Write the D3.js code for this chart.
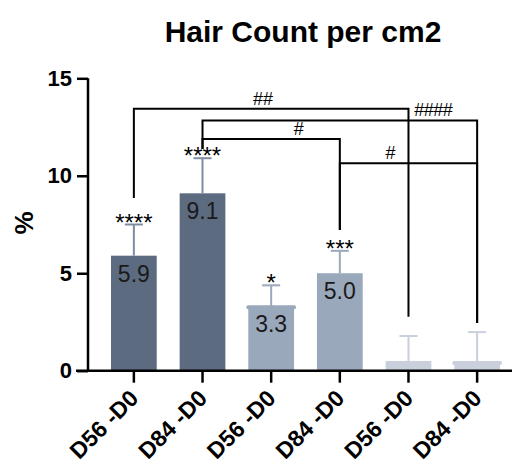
<!DOCTYPE html>
<html>
<head>
<meta charset="utf-8">
<script src="https://cdn.jsdelivr.net/npm/d3@7"></script>
<style>
  html, body { margin: 0; padding: 0; background: #fff; }
  svg { display: block; font-family: "Liberation Sans", Arial, Helvetica, sans-serif; }
</style>
</head>
<body>
<svg id="chart" width="515" height="466"></svg>
<script>
// ---- data ----
const categories = ["D56 -D0", "D84 -D0", "D56 -D0", "D84 -D0", "D56 -D0", "D84 -D0"];
const means      = [5.9, 9.1, 3.3, 5.0, 0.5, 0.45];
const errUpper   = [7.5, 10.9, 4.38, 6.15, 1.78, 1.98];
const valueLabels = ["5.9", "9.1", "3.3", "5.0", "", ""];
const stars      = ["****", "****", "*", "***", "", ""];
const yTicks     = [0, 5, 10, 15];
// brackets: from index, to index, height, left-leg end, right-leg end, label, label position fraction
const bracketFrom  = [0, 1, 1, 3];
const bracketTo    = [4, 5, 3, 5];
const bracketY     = [13.44, 12.84, 11.88, 10.64];
const bracketLeftEnd  = [8.86, 11.37, 11.37, 7.22];
const bracketRightEnd = [2.77, 2.45, 7.22, 2.45];
const bracketLabels   = ["##", "####", "#", "#"];
const bracketLabelFrac = [0.47, 0.84, 0.70, 0.37];

// ---- styles ----
const barColors = ["#5d6b80", "#5d6b80", "#9aa8bb", "#9aa8bb", "#c9d0dc", "#c9d0dc"];
const errColors = ["#7e8ca2", "#7e8ca2", "#9aa8bb", "#9aa8bb", "#c9d0dc", "#c9d0dc"];
const lipped    = [false, false, true, false, false, true];

const svg = d3.select("#chart");

const y = d3.scaleLinear().domain([0, 15]).range([370.7, 78.3]);
const x = d3.scaleBand().domain(d3.range(categories.length)).range([111, 500]).paddingInner(0.334).paddingOuter(0);
const cx = i => x(i) + x.bandwidth() / 2;

// title
svg.append("text").attr("x", 303).attr("y", 42).attr("text-anchor", "middle")
  .attr("font-size", 30).attr("font-weight", "bold").attr("fill", "#000")
  .text("Hair Count per cm2");

// y label
svg.append("text").attr("transform", "translate(33,223) rotate(-90)")
  .attr("text-anchor", "middle").attr("font-size", 26).attr("font-weight", "bold")
  .text("%");

// bars
const g = svg.append("g");
g.selectAll("rect.bar").data(means).join("rect")
  .attr("class", "bar")
  .attr("x", (d, i) => x(i)).attr("width", x.bandwidth())
  .attr("y", d => y(d)).attr("height", d => y(0) - y(d))
  .attr("fill", (d, i) => barColors[i]);

// lips on some bars
g.selectAll("rect.lip").data(means.map((d, i) => i).filter(i => lipped[i])).join("rect")
  .attr("class", "lip")
  .attr("x", i => x(i) - 2).attr("width", x.bandwidth() + 4)
  .attr("y", i => y(means[i]) - 1).attr("height", 4).attr("rx", 2)
  .attr("fill", i => barColors[i]);

// error bars
errUpper.forEach((e, i) => {
  g.append("line").attr("x1", cx(i)).attr("x2", cx(i))
    .attr("y1", y(means[i])).attr("y2", y(e))
    .attr("stroke", errColors[i]).attr("stroke-width", 2);
  g.append("line").attr("x1", cx(i) - 9).attr("x2", cx(i) + 9)
    .attr("y1", y(e)).attr("y2", y(e))
    .attr("stroke", errColors[i]).attr("stroke-width", 2);
});

// value labels
g.selectAll("text.val").data(valueLabels).join("text")
  .attr("class", "val")
  .attr("x", (d, i) => cx(i)).attr("y", (d, i) => y(means[i]) + 26)
  .attr("text-anchor", "middle").attr("font-size", 23).attr("fill", "#1a1a1a")
  .text(d => d);

// stars
g.selectAll("text.star").data(stars).join("text")
  .attr("class", "star")
  .attr("x", (d, i) => cx(i)).attr("y", (d, i) => y(errUpper[i]) + 6)
  .attr("text-anchor", "middle").attr("font-size", 24).attr("fill", "#000")
  .text(d => d);

// brackets
const bg = svg.append("g").attr("fill", "none").attr("stroke", "#000").attr("stroke-width", 2);
bracketFrom.forEach((f, k) => {
  const t = bracketTo[k];
  const path = d3.path();
  path.moveTo(cx(f), y(bracketLeftEnd[k]));
  path.lineTo(cx(f), y(bracketY[k]));
  path.lineTo(cx(t), y(bracketY[k]));
  path.lineTo(cx(t), y(bracketRightEnd[k]));
  bg.append("path").attr("d", path.toString());
  svg.append("text")
    .attr("x", cx(f) + (cx(t) - cx(f)) * bracketLabelFrac[k])
    .attr("y", y(bracketY[k]) - 4)
    .attr("text-anchor", "middle").attr("font-size", 18).attr("fill", "#000")
    .attr("letter-spacing", bracketLabels[k].length > 2 ? -0.5 : 0)
    .text(bracketLabels[k]);
});

// y axis
const yAxis = svg.append("g").attr("transform", "translate(88,0)")
  .call(d3.axisLeft(y).tickValues(yTicks).tickSize(11).tickPadding(5).tickFormat(d3.format("d")));
yAxis.select(".domain").attr("d", `M0,${y(15)}V${y(0)}`).attr("stroke", "#000").attr("stroke-width", 2.5);
yAxis.selectAll(".tick line").attr("stroke", "#000").attr("stroke-width", 2.5);
yAxis.selectAll(".tick text").attr("font-size", 22).attr("font-weight", "bold").attr("fill", "#000")
  .attr("font-family", "Liberation Sans, Arial, sans-serif");

// x axis
const xAxis = svg.append("g").attr("transform", `translate(0,${y(0)})`)
  .call(d3.axisBottom(x).tickSize(12).tickFormat(i => categories[i]));
xAxis.select(".domain").attr("d", "M76,0H512").attr("stroke", "#000").attr("stroke-width", 2.5);
xAxis.selectAll(".tick line").attr("stroke", "#000").attr("stroke-width", 2.5);
xAxis.selectAll(".tick text")
  .attr("font-size", 23).attr("font-weight", "bold").attr("fill", "#000")
  .attr("font-family", "Liberation Sans, Arial, sans-serif")
  .attr("text-anchor", "end").attr("dy", null)
  .attr("transform", "translate(6,29) rotate(-45)")
  .attr("y", 0).attr("x", 0);
</script>
</body>
</html>
